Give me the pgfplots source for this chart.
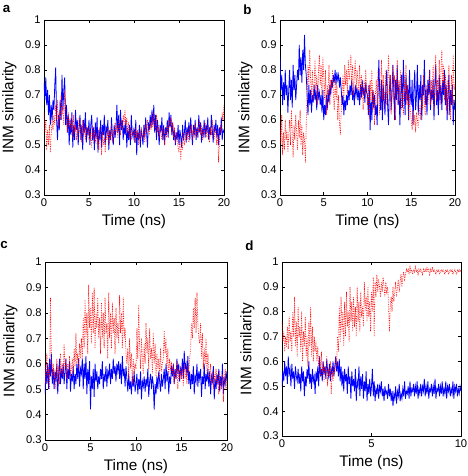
\documentclass[border=0pt]{standalone}
\usepackage{fontspec}
\setmainfont{Liberation Sans}
\usepackage{pgfplots}
\pgfplotsset{compat=1.18}
\definecolor{mblue}{RGB}{0,0,255}
\definecolor{mred}{RGB}{255,0,0}
\pgfplotsset{
 panel/.style={scale only axis, anchor=south west, ymin=0.3, ymax=1,
  ytick={0.3,0.4,0.5,0.6,0.7,0.8,0.9,1},
  yticklabels={0.3,0.4,0.5,0.6,0.7,0.8,0.9,1},
  xlabel={Time (ns)}, ylabel={INM similarity},
  tick label style={font=\fontsize{8.4}{9}\selectfont},
  label style={font=\fontsize{11.5}{12}\selectfont},
  xlabel style={yshift=0.5pt}, ylabel style={yshift=-0.5pt},
  major tick length=2.2pt, tick align=inside, tick pos=both,
  axis line style={line width=0.45pt}, tick style={line width=0.45pt, black},
  /pgf/number format/assume math mode=true,
  xticklabel style={yshift=1pt}, yticklabel style={xshift=1pt}},
 bl/.style={color=mblue, line width=0.6pt, mark=none},
 rd/.style={color=mred, line width=0.5pt, dash pattern=on 0.5pt off 0.8pt, mark=none},
 table/tb/.style={row sep=\\, x expr=\coordindex*0.1, y=y},
 table/td/.style={row sep=\\, x expr=\coordindex*0.05, y=y},
}
\begin{document}
\begin{tikzpicture}
\useasboundingbox (0pt,0pt) rectangle (351pt,357pt);
% ---------------- panel a
\node[font=\bfseries\fontsize{10}{11}\selectfont] at (5pt,350pt) {a};
\begin{axis}[panel, at={(33pt,210.75pt)}, width=135pt, height=131.25pt, xmin=0, xmax=20, xtick={0,5,10,15,20}]
\addplot[bl] table[tb] {y\\
.75\\.68\\.77\\.66\\.72\\.62\\.70\\.58\\.66\\.60\\
.68\\.64\\.74\\.81\\.60\\.52\\.62\\.56\\.68\\.60\\
.78\\.64\\.72\\.77\\.58\\.66\\.55\\.62\\.50\\.60\\
.54\\.63\\.49\\.58\\.52\\.64\\.56\\.60\\.50\\.57\\
.62\\.52\\.58\\.48\\.60\\.55\\.63\\.51\\.57\\.54\\
.60\\.50\\.58\\.62\\.52\\.57\\.48\\.59\\.53\\.61\\
.47\\.56\\.52\\.60\\.49\\.58\\.54\\.62\\.50\\.57\\
.55\\.60\\.48\\.56\\.52\\.61\\.54\\.50\\.58\\.53\\
.57\\.66\\.55\\.62\\.50\\.64\\.56\\.60\\.52\\.58\\
.54\\.60\\.49\\.56\\.52\\.58\\.50\\.62\\.55\\.53\\
.57\\.51\\.60\\.46\\.55\\.52\\.58\\.49\\.56\\.54\\
.50\\.58\\.53\\.61\\.55\\.49\\.59\\.56\\.62\\.57\\
.64\\.58\\.66\\.55\\.62\\.52\\.60\\.56\\.50\\.58\\
.55\\.61\\.52\\.58\\.50\\.57\\.54\\.60\\.53\\.63\\
.57\\.62\\.54\\.59\\.52\\.56\\.50\\.55\\.52\\.58\\
.50\\.56\\.53\\.49\\.58\\.52\\.55\\.60\\.51\\.57\\
.54\\.59\\.52\\.61\\.55\\.50\\.58\\.54\\.60\\.52\\
.57\\.53\\.62\\.55\\.59\\.51\\.56\\.54\\.60\\.53\\
.58\\.55\\.61\\.52\\.57\\.54\\.62\\.56\\.51\\.58\\
.55\\.60\\.53\\.58\\.50\\.57\\.54\\.61\\.52\\.56\\
.55\\};
\addplot[rd] table[tb] {y\\
.63\\.55\\.60\\.48\\.56\\.50\\.58\\.47\\.54\\.60\\
.56\\.62\\.58\\.66\\.60\\.68\\.57\\.63\\.60\\.70\\
.62\\.66\\.58\\.72\\.64\\.60\\.55\\.63\\.58\\.60\\
.56\\.60\\.53\\.62\\.55\\.58\\.52\\.57\\.54\\.61\\
.55\\.58\\.51\\.60\\.54\\.57\\.52\\.58\\.55\\.53\\
.57\\.52\\.55\\.49\\.58\\.53\\.56\\.51\\.55\\.50\\
.54\\.48\\.57\\.52\\.46\\.55\\.50\\.53\\.47\\.55\\
.52\\.57\\.50\\.55\\.53\\.58\\.51\\.56\\.54\\.59\\
.55\\.58\\.53\\.60\\.56\\.54\\.59\\.57\\.62\\.58\\
.64\\.58\\.61\\.55\\.59\\.53\\.57\\.52\\.56\\.54\\
.55\\.51\\.57\\.53\\.56\\.50\\.55\\.52\\.57\\.54\\
.53\\.56\\.51\\.58\\.55\\.60\\.57\\.54\\.59\\.56\\
.61\\.57\\.63\\.59\\.56\\.62\\.55\\.58\\.53\\.57\\
.55\\.52\\.57\\.54\\.50\\.56\\.53\\.58\\.55\\.60\\
.57\\.61\\.55\\.59\\.53\\.57\\.51\\.55\\.52\\.49\\
.47\\.53\\.44\\.51\\.48\\.55\\.50\\.53\\.56\\.52\\
.55\\.51\\.57\\.54\\.58\\.52\\.56\\.53\\.59\\.55\\
.53\\.57\\.55\\.60\\.54\\.58\\.52\\.56\\.54\\.59\\
.56\\.53\\.58\\.55\\.51\\.57\\.54\\.60\\.55\\.52\\
.57\\.54\\.50\\.56\\.43\\.52\\.58\\.55\\.62\\.60\\
.66\\};
\end{axis}
% ---------------- panel b
\node[font=\bfseries\fontsize{10}{11}\selectfont] at (185.5pt,350pt) {b};
\begin{axis}[panel, at={(210pt,210.75pt)}, width=131.25pt, height=131.25pt, xmin=0, xmax=20, xtick={0,5,10,15,20}]
\addplot[bl] table[tb] {y\\
.85\\.72\\.78\\.66\\.75\\.68\\.80\\.70\\.74\\.63\\
.72\\.80\\.68\\.76\\.65\\.82\\.72\\.78\\.68\\.74\\
.80\\.76\\.90\\.78\\.85\\.75\\.88\\.80\\.94\\.82\\
.78\\.70\\.62\\.74\\.66\\.72\\.63\\.70\\.67\\.74\\
.68\\.72\\.64\\.74\\.69\\.71\\.66\\.70\\.63\\.72\\
.60\\.66\\.62\\.70\\.64\\.72\\.67\\.74\\.70\\.76\\
.73\\.78\\.75\\.80\\.74\\.79\\.76\\.78\\.73\\.77\\
.72\\.66\\.70\\.62\\.68\\.64\\.70\\.66\\.72\\.68\\
.74\\.70\\.76\\.68\\.72\\.66\\.74\\.70\\.73\\.68\\
.72\\.66\\.74\\.69\\.76\\.70\\.73\\.67\\.75\\.71\\
.70\\.62\\.74\\.56\\.68\\.60\\.72\\.65\\.70\\.62\\
.66\\.58\\.72\\.84\\.70\\.64\\.76\\.60\\.74\\.68\\
.62\\.74\\.80\\.66\\.58\\.72\\.78\\.64\\.70\\.82\\
.72\\.60\\.76\\.68\\.82\\.66\\.74\\.58\\.70\\.78\\
.65\\.84\\.72\\.62\\.78\\.68\\.74\\.60\\.80\\.70\\
.66\\.76\\.58\\.72\\.80\\.64\\.70\\.82\\.62\\.74\\
.68\\.78\\.60\\.74\\.70\\.84\\.66\\.72\\.62\\.76\\
.70\\.80\\.64\\.72\\.68\\.76\\.60\\.74\\.82\\.66\\
.72\\.62\\.78\\.68\\.74\\.64\\.76\\.70\\.80\\.66\\
.74\\.60\\.70\\.78\\.62\\.72\\.66\\.74\\.58\\.68\\
.64\\};
\addplot[rd] table[tb] {y\\
.58\\.50\\.62\\.46\\.55\\.48\\.60\\.52\\.56\\.47\\
.54\\.60\\.50\\.64\\.55\\.45\\.58\\.52\\.62\\.55\\
.48\\.60\\.53\\.64\\.50\\.58\\.46\\.55\\.52\\.43\\
.58\\.70\\.82\\.74\\.88\\.76\\.70\\.80\\.68\\.74\\
.84\\.72\\.78\\.66\\.80\\.86\\.74\\.82\\.70\\.85\\
.76\\.68\\.80\\.62\\.74\\.70\\.82\\.66\\.76\\.72\\
.80\\.70\\.64\\.76\\.68\\.74\\.60\\.70\\.58\\.54\\
.64\\.72\\.78\\.68\\.82\\.74\\.80\\.70\\.84\\.76\\
.80\\.86\\.74\\.82\\.70\\.78\\.84\\.72\\.80\\.76\\
.72\\.82\\.68\\.78\\.74\\.64\\.76\\.70\\.80\\.72\\
.66\\.74\\.60\\.76\\.68\\.80\\.64\\.72\\.58\\.70\\
.76\\.66\\.80\\.70\\.62\\.74\\.84\\.68\\.78\\.64\\
.72\\.80\\.66\\.76\\.86\\.70\\.78\\.62\\.74\\.82\\
.68\\.78\\.60\\.74\\.84\\.66\\.76\\.70\\.80\\.64\\
.72\\.62\\.78\\.68\\.82\\.66\\.74\\.60\\.70\\.64\\
.60\\.56\\.64\\.58\\.62\\.55\\.63\\.60\\.57\\.62\\
.66\\.60\\.72\\.64\\.78\\.68\\.62\\.74\\.70\\.66\\
.72\\.80\\.66\\.76\\.70\\.82\\.64\\.74\\.86\\.68\\
.76\\.70\\.84\\.66\\.80\\.88\\.72\\.82\\.68\\.78\\
.64\\.76\\.62\\.82\\.70\\.60\\.78\\.66\\.86\\.72\\
.74\\};
\end{axis}
% ---------------- panel c
\node[font=\bfseries\fontsize{10}{11}\selectfont] at (3pt,173pt) {c};
\begin{axis}[panel, at={(33.75pt,27pt)}, width=136.5pt, height=133.5pt, xmin=0, xmax=20, xtick={0,5,10,15,20}]
\addplot[bl] table[tb] {y\\
.48\\.58\\.52\\.60\\.50\\.62\\.55\\.64\\.52\\.58\\
.50\\.57\\.53\\.60\\.48\\.56\\.62\\.52\\.58\\.54\\
.60\\.52\\.57\\.62\\.50\\.58\\.54\\.61\\.49\\.56\\
.53\\.59\\.50\\.56\\.52\\.60\\.54\\.62\\.51\\.58\\
.56\\.62\\.50\\.60\\.54\\.63\\.48\\.58\\.52\\.61\\
.42\\.55\\.50\\.58\\.47\\.60\\.53\\.57\\.50\\.55\\
.52\\.58\\.54\\.61\\.50\\.56\\.53\\.59\\.51\\.57\\
.55\\.60\\.52\\.58\\.54\\.62\\.56\\.59\\.53\\.60\\
.57\\.61\\.54\\.60\\.52\\.63\\.55\\.58\\.51\\.59\\
.54\\.49\\.56\\.50\\.53\\.48\\.55\\.51\\.57\\.49\\
.52\\.56\\.48\\.54\\.50\\.57\\.46\\.53\\.51\\.55\\
.49\\.54\\.51\\.58\\.47\\.53\\.56\\.50\\.55\\.52\\
.42\\.52\\.48\\.55\\.50\\.57\\.53\\.49\\.56\\.51\\
.54\\.58\\.50\\.60\\.53\\.57\\.48\\.55\\.52\\.59\\
.55\\.60\\.52\\.58\\.54\\.62\\.56\\.60\\.53\\.58\\
.56\\.62\\.54\\.65\\.58\\.60\\.55\\.63\\.52\\.57\\
.50\\.56\\.52\\.59\\.48\\.55\\.53\\.60\\.51\\.57\\
.54\\.58\\.47\\.55\\.52\\.60\\.50\\.56\\.53\\.58\\
.51\\.57\\.48\\.55\\.53\\.59\\.46\\.54\\.50\\.56\\
.52\\.58\\.49\\.55\\.51\\.60\\.48\\.54\\.52\\.57\\
.53\\};
\addplot[rd] table[tb] {y\\
.60\\.52\\.64\\.55\\.58\\.50\\.86\\.62\\.55\\.60\\
.54\\.58\\.50\\.62\\.55\\.59\\.52\\.64\\.56\\.60\\
.55\\.68\\.58\\.62\\.54\\.60\\.57\\.63\\.55\\.58\\
.62\\.56\\.66\\.59\\.72\\.60\\.64\\.58\\.68\\.62\\
.70\\.62\\.78\\.66\\.85\\.70\\.80\\.64\\.91\\.74\\
.82\\.68\\.88\\.72\\.90\\.66\\.80\\.74\\.86\\.70\\
.78\\.64\\.84\\.70\\.80\\.66\\.86\\.72\\.76\\.62\\
.88\\.70\\.80\\.66\\.84\\.72\\.78\\.64\\.82\\.70\\
.76\\.68\\.87\\.72\\.80\\.66\\.86\\.70\\.74\\.64\\
.60\\.66\\.54\\.70\\.58\\.64\\.52\\.62\\.56\\.60\\
.58\\.74\\.62\\.83\\.66\\.58\\.70\\.62\\.56\\.68\\
.60\\.76\\.64\\.70\\.58\\.74\\.62\\.66\\.56\\.72\\
.60\\.68\\.55\\.64\\.58\\.62\\.54\\.66\\.57\\.60\\
.62\\.73\\.64\\.70\\.58\\.66\\.55\\.62\\.58\\.60\\
.56\\.60\\.52\\.58\\.54\\.61\\.50\\.57\\.55\\.59\\
.54\\.58\\.51\\.60\\.55\\.57\\.52\\.59\\.56\\.62\\
.66\\.76\\.70\\.82\\.74\\.86\\.72\\.88\\.76\\.70\\
.68\\.76\\.62\\.72\\.58\\.66\\.60\\.70\\.56\\.64\\
.58\\.54\\.60\\.52\\.57\\.50\\.56\\.53\\.58\\.51\\
.55\\.48\\.57\\.52\\.50\\.56\\.45\\.53\\.58\\.50\\
.54\\};
\end{axis}
% ---------------- panel d
\node[font=\bfseries\fontsize{10}{11}\selectfont] at (187pt,173pt) {d};
\begin{axis}[panel, at={(211.5pt,30pt)}, width=134.25pt, height=130.5pt, xmin=0, xmax=10, xtick={0,5,10}]
\addplot[bl] table[td] {y\\
.50\\.56\\.52\\.60\\.54\\.58\\.51\\.62\\.55\\.57\\.50\\.59\\.53\\.56\\.49\\.58\\.54\\.52\\.57\\.51\\
.55\\.48\\.58\\.52\\.56\\.46\\.54\\.50\\.57\\.53\\.60\\.51\\.55\\.49\\.57\\.52\\.54\\.47\\.56\\.52\\
.58\\.50\\.62\\.54\\.57\\.52\\.60\\.55\\.58\\.53\\.61\\.56\\.54\\.59\\.52\\.57\\.55\\.60\\.54\\.58\\
.62\\.56\\.60\\.54\\.61\\.52\\.58\\.50\\.56\\.48\\.57\\.52\\.55\\.47\\.58\\.51\\.54\\.45\\.56\\.50\\
.53\\.48\\.57\\.44\\.52\\.50\\.58\\.46\\.54\\.49\\.55\\.45\\.52\\.48\\.56\\.44\\.51\\.47\\.53\\.46\\
.50\\.57\\.46\\.52\\.44\\.49\\.47\\.51\\.45\\.50\\.48\\.52\\.46\\.49\\.44\\.50\\.47\\.48\\.45\\.51\\
.46\\.49\\.44\\.48\\.42\\.47\\.45\\.50\\.43\\.48\\.46\\.51\\.44\\.47\\.45\\.49\\.46\\.52\\.45\\.48\\
.47\\.50\\.45\\.52\\.46\\.49\\.48\\.51\\.46\\.50\\.47\\.52\\.45\\.49\\.47\\.51\\.46\\.50\\.48\\.53\\
.46\\.50\\.47\\.52\\.45\\.49\\.48\\.51\\.46\\.50\\.47\\.53\\.45\\.49\\.48\\.51\\.46\\.50\\.47\\.52\\
.46\\.49\\.47\\.52\\.45\\.50\\.48\\.51\\.46\\.49\\.47\\.52\\.45\\.50\\.48\\.51\\.46\\.49\\.47\\.50\\
.48\\};
\addplot[rd] table[td] {y\\
.76\\.68\\.72\\.64\\.70\\.66\\.74\\.65\\.78\\.68\\.72\\.64\\.80\\.70\\.86\\.66\\.76\\.62\\.82\\.70\\
.74\\.64\\.80\\.60\\.72\\.66\\.78\\.62\\.70\\.58\\.76\\.66\\.82\\.62\\.74\\.60\\.70\\.64\\.68\\.60\\
.66\\.58\\.62\\.54\\.64\\.56\\.60\\.52\\.58\\.55\\.62\\.50\\.57\\.54\\.60\\.47\\.56\\.52\\.58\\.55\\
.62\\.58\\.70\\.64\\.82\\.68\\.86\\.72\\.80\\.66\\.84\\.70\\.88\\.74\\.80\\.68\\.90\\.76\\.84\\.72\\
.86\\.74\\.82\\.70\\.90\\.76\\.84\\.72\\.88\\.78\\.82\\.74\\.92\\.80\\.86\\.76\\.90\\.78\\.84\\.72\\
.88\\.80\\.94\\.70\\.92\\.86\\.95\\.88\\.93\\.90\\.86\\.92\\.88\\.94\\.90\\.86\\.92\\.88\\.90\\.84\\
.72\\.82\\.86\\.80\\.90\\.84\\.88\\.92\\.86\\.90\\.93\\.88\\.92\\.95\\.90\\.94\\.96\\.93\\.95\\.97\\
.96\\.97\\.95\\.98\\.96\\.97\\.95\\.97\\.96\\.98\\.96\\.97\\.95\\.97\\.96\\.97\\.96\\.95\\.97\\.96\\
.97\\.96\\.98\\.96\\.97\\.95\\.97\\.96\\.98\\.96\\.97\\.96\\.95\\.97\\.96\\.97\\.95\\.96\\.97\\.96\\
.97\\.96\\.95\\.97\\.96\\.97\\.95\\.96\\.97\\.96\\.97\\.95\\.96\\.97\\.96\\.95\\.97\\.96\\.97\\.96\\
.97\\};
\end{axis}
\end{tikzpicture}
\end{document}
